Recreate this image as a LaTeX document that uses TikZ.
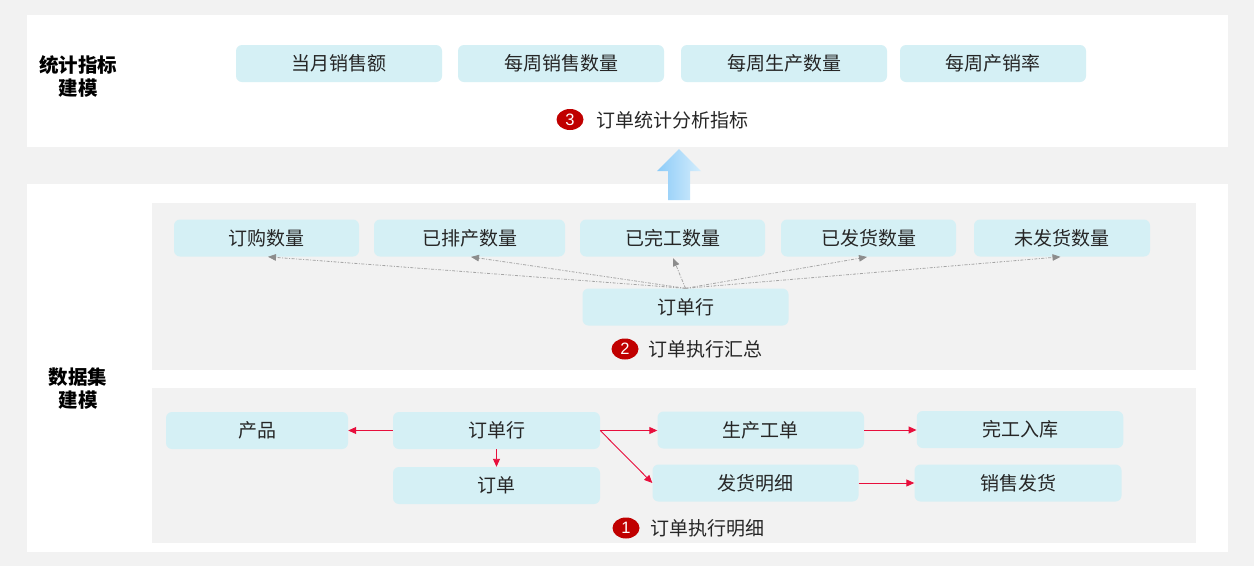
\documentclass[tikz,border=0pt]{standalone}
\usepackage{fontspec}
\setmainfont{Liberation Sans}
\newfontfamily\cjk{Noto Sans CJK SC}
\usetikzlibrary{arrows.meta,shapes.geometric}
\definecolor{boxfill}{RGB}{213,240,245}
\definecolor{panelgray}{RGB}{242,242,242}
\definecolor{txt}{RGB}{38,38,38}
\definecolor{redline}{RGB}{232,14,60}
\definecolor{badgered}{RGB}{192,0,0}
\definecolor{dashgray}{RGB}{165,165,165}
\definecolor{tipgray}{RGB}{140,140,140}
\definecolor{arrowleft}{RGB}{140,203,248}
\definecolor{arrowright}{RGB}{212,237,252}
\begin{document}
\begin{tikzpicture}[x=1pt,y=-1pt,
  box/.style={draw=none, fill=boxfill, rounded corners=6pt, minimum height=37pt,
    minimum width=#1, inner sep=0pt, font=\cjk\fontsize{19}{22}\selectfont, text=txt},
  sidelabel/.style={align=center, font=\cjk\bfseries\fontsize{19.5}{23}\selectfont, text=black},
  badge/.style={ellipse, fill=badgered, minimum width=27pt, minimum height=21pt, inner sep=0pt,
    text=white, font=\fontsize{16.5}{16.5}\selectfont},
  heading/.style={anchor=west, inner sep=0pt, font=\cjk\fontsize{19}{22}\selectfont, text=txt},
  redarr/.style={draw=redline, line width=0.9pt, -{Triangle[length=8pt,width=7pt]}},
  dasharr/.style={draw=dashgray, line width=0.8pt,
    dash pattern=on 3pt off 1.5pt on 1pt off 1.5pt,
    -{Triangle[length=8pt,width=6.5pt,color=tipgray,fill=tipgray]},
    shorten >=1.5pt}
]
\useasboundingbox (0,0) rectangle (1254,566);
\fill[panelgray] (0,0) rectangle (1254,566);
% panels
\fill[white] (27,15) rectangle (1228,147);
\fill[white] (27,184) rectangle (1228,552);
\fill[panelgray] (152,203) rectangle (1196,370);
\fill[panelgray] (152,388) rectangle (1196,543);

% side labels
\node[sidelabel] (lab1) at (78,76) {统计指标\\建模};
\node[sidelabel] (lab2) at (78,389) {数据集\\建模};

% top metrics
\node[box=206] (m1) at (339,63.5) {当月销售额};
\node[box=206] (m2) at (561,63.5) {每周销售数量};
\node[box=206] (m3) at (784,63.5) {每周生产数量};
\node[box=186] (m4) at (993,63.5) {每周产销率};
\node[badge] (b3) at (570,119.5) {3};
\node[heading] (h3) at (596,120) {订单统计分析指标};

% block arrow
\shade[left color=arrowleft, right color=arrowright]
  (668,200) -- (668,171) -- (657,171) -- (679,149) -- (701,171) -- (690,171) -- (690,200) -- cycle;

% summary level
\node[box=185] (q1) at (266.5,238) {订购数量};
\node[box=191] (q2) at (469.5,238) {已排产数量};
\node[box=185] (q3) at (672.5,238) {已完工数量};
\node[box=175] (q4) at (868.5,238) {已发货数量};
\node[box=176] (q5) at (1062,238) {未发货数量};
\node[box=206] (r2) at (685.5,307) {订单行};
\node[badge] (b2) at (625,349) {2};
\node[heading] (h2) at (648,349) {订单执行汇总};
\foreach \q in {q1,q2,q3,q4,q5}
  \draw[dasharr] (r2.north) -- (\q.south);

% detail level
\node[box=182] (prod) at (257,430.5) {产品};
\node[box=207] (ol) at (496.5,430.5) {订单行};
\node[box=207] (ord) at (496.5,485.5) {订单};
\node[box=206.5] (wo) at (760.75,430) {生产工单};
\node[box=206.5] (fin) at (1020,429.5) {完工入库};
\node[box=206] (ship) at (755.5,483) {发货明细};
\node[box=207] (sale) at (1018,483) {销售发货};
\node[badge] (b1) at (626,528) {1};
\node[heading] (h1) at (650,528) {订单执行明细};

\draw[redarr] (ol.west) -- (prod.east);
\draw[redarr] (ol.south) -- (ord.north);
\draw[redarr] (ol.east) -- (ol.east -| wo.west);
\draw[redarr] (ol.east) -- (ship.west);
\draw[redarr] (wo.east) -- (wo.east -| fin.west);
\draw[redarr] (ship.east) -- (sale.west);
\end{tikzpicture}
\end{document}
